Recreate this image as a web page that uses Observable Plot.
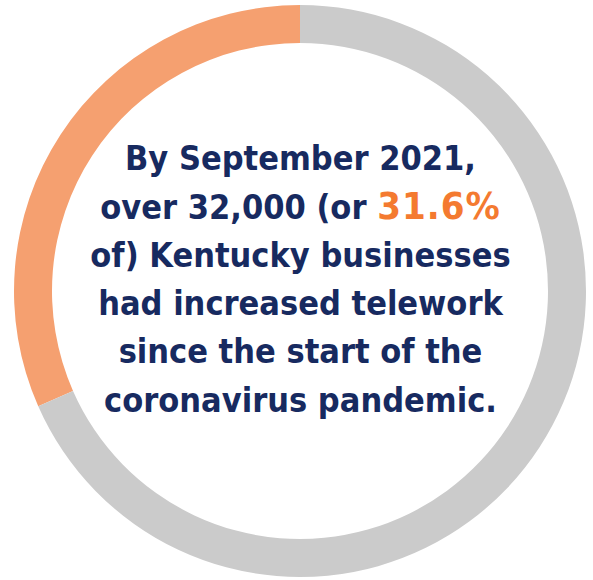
<!DOCTYPE html>
<html>
<head>
<meta charset="utf-8">
<script src="https://cdn.jsdelivr.net/npm/d3@7"></script>
<script src="https://cdn.jsdelivr.net/npm/@observablehq/plot@0.6"></script>
<style>
  html, body { margin: 0; padding: 0; background: #ffffff; }
  #chart svg { display: block; }
</style>
</head>
<body>
<div id="chart"></div>
<script>
// ---- data ----
const categories = ["Increased telework", "Did not increase telework"];
const shares = [31.6, 68.4];
const sliceColors = ["#F5A070", "#CBCBCB"];
const textLines = [
  "By September 2021,",
  "over 32,000 (or 31.6%",
  "of) Kentucky businesses",
  "had increased telework",
  "since the start of the",
  "coronavirus pandemic."
];
const highlightText = "31.6%";

// ---- build ----
const total = d3.sum(shares);
const start = -2 * Math.PI * shares[0] / total;
const pie = d3.pie().sort(null).value(d => d.share)
  .startAngle(start).endAngle(start + 2 * Math.PI);
const slices = pie(categories.map((c, i) => ({category: c, share: shares[i]})));

const innerRatio = 248 / 286;

function donutMark(data) {
  return Plot.dot(data, {
    x: () => 0,
    y: () => 0,
    fill: d => d.data.category,
    render(index, scales, values, dimensions, context) {
      const cx = scales.x(0), cy = scales.y(0);
      const R = Math.abs(scales.x(1) - scales.x(0));
      const arc = d3.arc().innerRadius(R * innerRatio).outerRadius(R);
      const g = d3.create("svg:g");
      g.selectAll("path").data(index).join("path")
        .attr("transform", `translate(${cx},${cy})`)
        .attr("d", i => arc(data[i]))
        .attr("fill", i => values.fill[i]);
      return g.node();
    }
  });
}

const plot = Plot.plot({
  width: 593,
  height: 580,
  margin: 0,
  style: {background: "#ffffff", overflow: "visible"},
  x: {domain: [-1, 1], range: [14, 586], axis: null},
  y: {domain: [-1, 1], range: [577, 5], axis: null},
  color: {domain: categories, range: sliceColors},
  marks: [
    donutMark(slices),
    Plot.text([textLines.join("\n")], {
      x: () => 0,
      y: () => 0,
      text: d => d,
      textAnchor: "middle",
      lineAnchor: "middle",
      lineHeight: 1.42,
      dy: -16,
      fontSize: 34,
      fontWeight: "bold",
      fontFamily: "'DejaVu Sans Condensed', 'DejaVu Sans', sans-serif",
      fill: "#172A60"
    })
  ]
});

// highlight the percentage in orange, larger
d3.select(plot).selectAll("tspan").each(function () {
  const t = this.textContent;
  const k = t.indexOf(highlightText);
  if (k >= 0) {
    this.textContent = t.slice(0, k);
    d3.select(this).append("tspan")
      .attr("fill", "#F47A30")
      .attr("font-size", 38)
      .attr("letter-spacing", 1)
      .text(highlightText);
  }
});

document.getElementById("chart").appendChild(plot);
</script>
</body>
</html>
